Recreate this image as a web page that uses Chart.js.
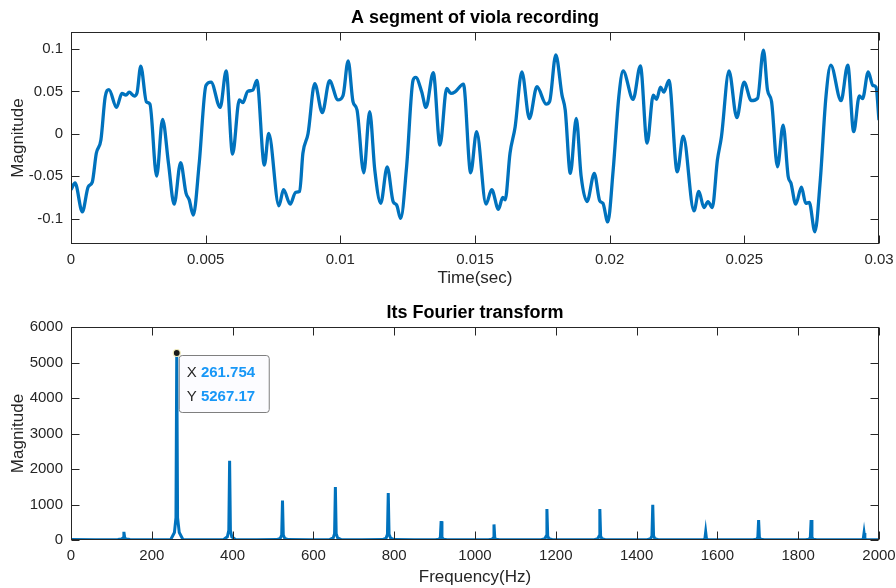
<!DOCTYPE HTML>
<html lang="en">
<head>
    <meta charset="UTF-8">
    <title>Viola recording and its Fourier transform</title>
    <script src="https://cdn.jsdelivr.net/npm/chart.js"></script>
    <style>
        body { margin: 0; background: #fff; }
        .box { position: absolute; left: 0; width: 896px; height: 294px; }
    </style>
</head>
<body>
<div class="box" style="top:0"><canvas id="waveChart" width="896" height="294"></canvas></div>
<div class="box" style="top:294px"><canvas id="fftChart" width="896" height="294"></canvas></div>

<script>
    // segment of the recording (seconds, amplitude)
    const timeSec = [0, 0.00015, 0.00042, 0.00064, 0.00079, 0.00094, 0.00111, 0.00127, 0.00141, 0.00169,
        0.00189, 0.00204, 0.00216, 0.00235, 0.00245, 0.00259, 0.00280, 0.00293, 0.00318, 0.00340,
        0.00362, 0.00383, 0.00407, 0.00427, 0.00439, 0.00454, 0.00476, 0.00501, 0.00520, 0.00554,
        0.00576, 0.00600, 0.00625, 0.00638, 0.00656, 0.00675, 0.00690, 0.00718, 0.00734, 0.00772,
        0.00789, 0.00814, 0.00834, 0.00849, 0.00861, 0.00880, 0.00905, 0.00933, 0.00960, 0.00991,
        0.01010, 0.01029, 0.01047, 0.01062, 0.01087, 0.01109, 0.01128, 0.01150, 0.01174, 0.01196,
        0.01209, 0.01224, 0.01246, 0.01270, 0.01280, 0.01302, 0.01318, 0.01345, 0.01370, 0.01395,
        0.01410, 0.01426, 0.01457, 0.01484, 0.01506, 0.01541, 0.01562, 0.01587, 0.01603, 0.01612,
        0.01630, 0.01649, 0.01674, 0.01702, 0.01730, 0.01764, 0.01777, 0.01800, 0.01823, 0.01835,
        0.01854, 0.01876, 0.01894, 0.01916, 0.01943, 0.01963, 0.01975, 0.01993, 0.02013, 0.02034,
        0.02050, 0.02087, 0.02114, 0.02139, 0.02162, 0.02174, 0.02189, 0.02201, 0.02220, 0.02251,
        0.02273, 0.02313, 0.02331, 0.02350, 0.02365, 0.02381, 0.02400, 0.02415, 0.02443, 0.02472,
        0.02499, 0.02526, 0.02549, 0.02571, 0.02586, 0.02601, 0.02623, 0.02644, 0.02663, 0.02673,
        0.02691, 0.02712, 0.02728, 0.02741, 0.02762, 0.02782, 0.02803, 0.02821, 0.02859, 0.02884,
        0.02906, 0.02927, 0.02939, 0.02960, 0.02977, 0.02989, 0.03];
    const amplitude = [-0.066, -0.058, -0.092, -0.0625, -0.057, -0.023, -0.0075, 0.0436, 0.052, 0.031,
        0.0476, 0.0456, 0.049, 0.0445, 0.048, 0.0798, 0.0377, 0.035, -0.05, 0.017,
        -0.035, -0.083, -0.034, -0.070, -0.078, -0.096, -0.035, 0.057, 0.061, 0.031,
        0.074, -0.024, 0.040, 0.0366, 0.050, 0.0515, 0.063, -0.037, 0.0005, -0.085,
        -0.066, -0.083, -0.069, -0.068, -0.023, 0, 0.059, 0.025, 0.0625, 0.040,
        0.045, 0.086, 0.038, 0.028, -0.046, 0.026, -0.043, -0.082, -0.039, -0.080,
        -0.084, -0.0998, -0.039, 0.063, 0.0665, 0.0495, 0.031, 0.072, -0.0133, 0.0535,
        0.0476, 0.0495, 0.0586, -0.046, 0.0024, -0.083, -0.066, -0.089, -0.075, -0.078,
        -0.023, 0.008, 0.073, 0.018, 0.0555, 0.035, 0.038, 0.093, 0.0456, 0.028,
        -0.0467, 0.018, -0.05, -0.080, -0.0467, -0.079, -0.082, -0.104, -0.043, 0.0436,
        0.074, 0.0405, 0.080, -0.011, 0.0456, 0.0405, 0.055, 0.049, 0.063, -0.045,
        -0.0027, -0.091, -0.068, -0.087, -0.080, -0.087, -0.031, -0.0035, 0.074, 0.019,
        0.061, 0.039, 0.0417, 0.0987, 0.0515, 0.038, -0.039, 0.0103, -0.0507, -0.058,
        -0.083, -0.063, -0.082, -0.081, -0.1156, -0.0546, 0.0436, 0.081, 0.039, 0.081,
        0.0024, 0.0445, 0.0415, 0.073, 0.057, 0.055, 0.016];

    // spectrum (Hz, magnitude) - harmonics of the open C string
    const freqHz = [0, 60, 116, 125, 129, 130.9, 133, 137, 146, 200,
        247, 256, 259.8, 261.754, 263.8, 268, 277, 330,
        378, 387, 390.6, 392.6, 394.6, 398, 407, 460,
        509, 518, 521.5, 523.5, 525.5, 529, 538, 590,
        640, 649, 652.4, 654.4, 656.4, 660, 669, 720,
        771, 780, 783.3, 785.3, 787.3, 791, 800, 850,
        902, 911, 914.2, 916.2, 918.2, 922, 931, 980,
        1033, 1042, 1045, 1047, 1049, 1052, 1061, 1110,
        1164, 1173, 1176, 1178, 1180, 1183, 1192, 1240,
        1295, 1304, 1307, 1309, 1311, 1314, 1323, 1370,
        1426, 1435, 1438, 1440, 1442, 1445, 1454, 1500,
        1557, 1566, 1569, 1571, 1573, 1576, 1585, 1630,
        1688, 1697, 1700, 1702, 1704, 1707, 1716, 1760,
        1818, 1827, 1830, 1832, 1834, 1837, 1846, 1900,
        1949, 1958, 1961, 1963, 1965, 1968, 1977, 2000];
    const fftMag = [12, 6, 12, 25, 60, 230, 60, 25, 12, 8,
        15, 210, 630, 5267.17, 630, 210, 15, 9,
        15, 90, 270, 2230, 270, 90, 15, 8,
        12, 45, 135, 1110, 135, 45, 12, 7,
        12, 60, 180, 1490, 180, 60, 12, 7,
        12, 55, 160, 1320, 160, 55, 12, 6,
        10, 25, 65, 530, 65, 25, 10, 6,
        10, 20, 55, 440, 55, 20, 10, 6,
        10, 35, 105, 870, 105, 35, 10, 6,
        10, 35, 105, 870, 105, 35, 10, 6,
        10, 40, 120, 990, 120, 40, 10, 6,
        8, 15, 30, 225, 30, 15, 8, 5,
        10, 25, 70, 560, 70, 25, 10, 5,
        10, 25, 70, 560, 70, 25, 10, 5,
        8, 15, 28, 200, 28, 15, 8, 5];

    // data tip on the fundamental
    const tipX = 261.754;
    const tipY = 5267.17;

    // tick labels
    const waveXTicks = [0, 0.005, 0.01, 0.015, 0.02, 0.025, 0.03];
    const waveYTicks = [-0.1, -0.05, 0, 0.05, 0.1];
    const fftXTicks = [0, 200, 400, 600, 800, 1000, 1200, 1400, 1600, 1800, 2000];
    const fftYTicks = [0, 1000, 2000, 3000, 4000, 5000, 6000];

    const FONT = '"Liberation Sans", Arial, Helvetica, sans-serif';
    const INK = '#262626';
    const BLUE = '#0072BD';

    // matlab-like box with inward ticks and a bold title over the axes
    const matlabFrame = {
        id: 'matlabFrame',
        afterDatasetsDraw(chart, args, opts) {
            const { ctx, chartArea: a, scales: { x, y } } = chart;
            const L = Math.round(a.left) + 0.5, R = Math.round(a.right) - 0.5;
            const T = Math.round(a.top) + 0.5, B = Math.round(a.bottom) - 0.5;
            ctx.save();
            ctx.strokeStyle = INK;
            ctx.lineWidth = 1;
            ctx.strokeRect(L, T, R - L, B - T);
            ctx.beginPath();
            x.ticks.forEach(t => {
                const px = Math.round(x.getPixelForValue(t.value)) + 0.5;
                ctx.moveTo(px, B); ctx.lineTo(px, B - 8);
                ctx.moveTo(px, T); ctx.lineTo(px, T + 8);
            });
            y.ticks.forEach(t => {
                const py = Math.round(y.getPixelForValue(t.value)) + 0.5;
                ctx.moveTo(L, py); ctx.lineTo(L + 8, py);
                ctx.moveTo(R, py); ctx.lineTo(R - 8, py);
            });
            ctx.stroke();

            ctx.fillStyle = '#000';
            ctx.font = 'bold 18px ' + FONT;
            ctx.textAlign = 'center';
            ctx.textBaseline = 'middle';
            ctx.fillText(opts.text, (a.left + a.right) / 2, a.top - 14);
            ctx.restore();
        }
    };

    // the data tip box on the spectrum
    const dataTip = {
        id: 'dataTip',
        afterDatasetsDraw(chart, args, opts) {
            if (!opts.show) return;
            const { ctx, scales: { x, y } } = chart;
            const px = x.getPixelForValue(tipX), py = y.getPixelForValue(tipY);
            ctx.save();
            // box
            const bx = px + 2.5, by = py + 2.5, bw = 90, bh = 57;
            ctx.beginPath();
            ctx.roundRect(bx, by, bw, bh, 3);
            ctx.fillStyle = 'rgba(252,252,255,0.97)';
            ctx.fill();
            ctx.strokeStyle = '#7f7f7f';
            ctx.lineWidth = 1;
            ctx.stroke();
            // marker
            ctx.beginPath();
            ctx.arc(px, py, 3.5, 0, Math.PI * 2);
            ctx.fillStyle = '#1a1a1a';
            ctx.fill();
            ctx.strokeStyle = '#f3eec0';
            ctx.lineWidth = 1.2;
            ctx.stroke();
            // text
            ctx.textBaseline = 'middle';
            ctx.textAlign = 'left';
            const rows = [['X', tipX.toFixed(3)], ['Y', tipY.toFixed(2)]];
            rows.forEach((r, i) => {
                const ty = by + 17 + i * 24.5;
                ctx.font = '15px ' + FONT;
                ctx.fillStyle = INK;
                ctx.fillText(r[0], bx + 7.5, ty);
                const w = ctx.measureText(r[0] + ' ').width;
                ctx.font = 'bold 15px ' + FONT;
                ctx.fillStyle = '#1797f7';
                ctx.fillText(r[1], bx + 7.5 + w, ty);
            });
            ctx.restore();
        }
    };

    function makeChart(id, xs, ys, cfg) {
        const ctx = document.getElementById(id).getContext('2d');
        return new Chart(ctx, {
            type: 'line',
            data: {
                datasets: [{
                    data: xs.map((v, i) => ({ x: v, y: ys[i] })),
                    borderColor: BLUE,
                    borderWidth: cfg.lineWidth,
                    pointRadius: 0,
                    fill: false,
                    tension: cfg.smooth ? 0.4 : 0,
                    cubicInterpolationMode: cfg.smooth ? 'monotone' : 'default'
                }]
            },
            options: {
                responsive: false,
                animation: false,
                devicePixelRatio: 1,
                layout: { padding: { left: 0, right: 17, top: cfg.padTop, bottom: 0 } },
                plugins: {
                    legend: { display: false },
                    tooltip: { enabled: false },
                    matlabFrame: { text: cfg.title },
                    dataTip: { show: !!cfg.tip }
                },
                scales: {
                    x: {
                        type: 'linear',
                        min: cfg.xTicks[0],
                        max: cfg.xTicks[cfg.xTicks.length - 1],
                        afterBuildTicks: s => { s.ticks = cfg.xTicks.map(v => ({ value: v })); },
                        // keep the plot box at a fixed size, labels may hang over the edge
                        afterFit: s => { s.height = cfg.xHeight; s.paddingLeft = 0; s.paddingRight = 0; },
                        grid: { display: false, drawTicks: false },
                        border: { display: false },
                        ticks: { padding: 7, color: INK, font: { family: FONT, size: 15 },
                                 maxRotation: 0, autoSkip: false, callback: v => String(v) },
                        title: { display: true, text: cfg.xLabel, color: INK,
                                 font: { family: FONT, size: 17 }, padding: { top: 0, bottom: cfg.xTitlePad } }
                    },
                    y: {
                        min: cfg.yMin,
                        max: cfg.yMax,
                        afterBuildTicks: s => { s.ticks = cfg.yTicks.map(v => ({ value: v })); },
                        afterFit: s => { s.width = 71; s.paddingTop = 0; s.paddingBottom = 0; },
                        grid: { display: false, drawTicks: false },
                        border: { display: false },
                        ticks: { padding: 8, color: INK, font: { family: FONT, size: 15 },
                                 autoSkip: false, callback: v => String(v) },
                        title: { display: true, text: 'Magnitude', color: INK,
                                 font: { family: FONT, size: 17 }, padding: { top: 8, bottom: 0 } }
                    }
                }
            },
            plugins: [matlabFrame, dataTip]
        });
    }

    makeChart('waveChart', timeSec, amplitude, {
        title: 'A segment of viola recording', xLabel: 'Time(sec)',
        xTicks: waveXTicks, yTicks: waveYTicks, yMin: -0.13, yMax: 0.12,
        padTop: 32, xHeight: 50, xTitlePad: 5, lineWidth: 3.3, smooth: true
    });

    makeChart('fftChart', freqHz, fftMag, {
        title: 'Its Fourier transform', xLabel: 'Frequency(Hz)',
        xTicks: fftXTicks, yTicks: fftYTicks, yMin: 0, yMax: 6000,
        padTop: 33, xHeight: 48, xTitlePad: 0, lineWidth: 3, smooth: false, tip: true
    });
</script>
</body>
</html>
